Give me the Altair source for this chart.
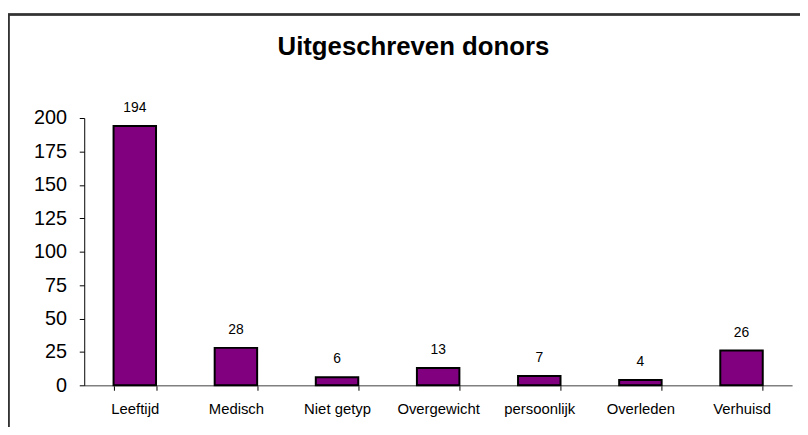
import altair as alt
import pandas as pd

categories = ["Leeftijd", "Medisch", "Niet getyp", "Overgewicht", "persoonlijk", "Overleden", "Verhuisd"]
values = [194, 28, 6, 13, 7, 4, 26]
y_ticks = [0, 25, 50, 75, 100, 125, 150, 175, 200]

df = pd.DataFrame({"cat": categories, "val": values})
FONT = "Liberation Sans"

base = alt.Chart(df)

x_enc = alt.X(
    "cat:N", sort=categories, title=None,
    scale=alt.Scale(paddingInner=0.58, paddingOuter=0.29),
    axis=alt.Axis(labelAngle=0, tickBand="extent", labelFont=FONT, labelFontSize=15,
                  labelColor="#000", labelPadding=11, domainColor="#808080",
                  tickColor="#000", tickSize=5, domainWidth=1.5, labelOverlap=False),
)
y_enc = alt.Y(
    "val:Q", title=None,
    scale=alt.Scale(domain=[0, 200], nice=False),
    axis=alt.Axis(values=y_ticks, grid=False, labelFont=FONT, labelFontSize=20,
                  labelColor="#000", labelPadding=13, domainColor="#000",
                  tickColor="#000", tickSize=5, labelOverlap=False),
)

bars = base.mark_bar(color="#800080", stroke="#000", strokeWidth=2).encode(x=x_enc, y=y_enc)
labels = base.mark_text(font=FONT, fontSize=14, color="#000", baseline="alphabetic", dy=-14).encode(
    x=x_enc, y=y_enc, text="val:Q"
)
border = base.mark_rect(fill=None, stroke="#333333", strokeWidth=1.5).encode(
    x=alt.value(-76.5), y=alt.value(-104.5), x2=alt.value(900), y2=alt.value(600)
)

chart = alt.layer(border, bars, labels).properties(
    width=715, height=270,
    padding={"left": 77, "top": 109, "right": 8, "bottom": 40},
    autosize="none",
    title=alt.Title("Uitgeschreven donors", font=FONT, fontSize=26, fontWeight="bold",
                    color="#000", anchor="middle", dx=-25, dy=51),
).configure(background="white", view=alt.ViewConfig(stroke=None))

chart.save("out.html", embed_options={"renderer": "svg", "actions": False})
